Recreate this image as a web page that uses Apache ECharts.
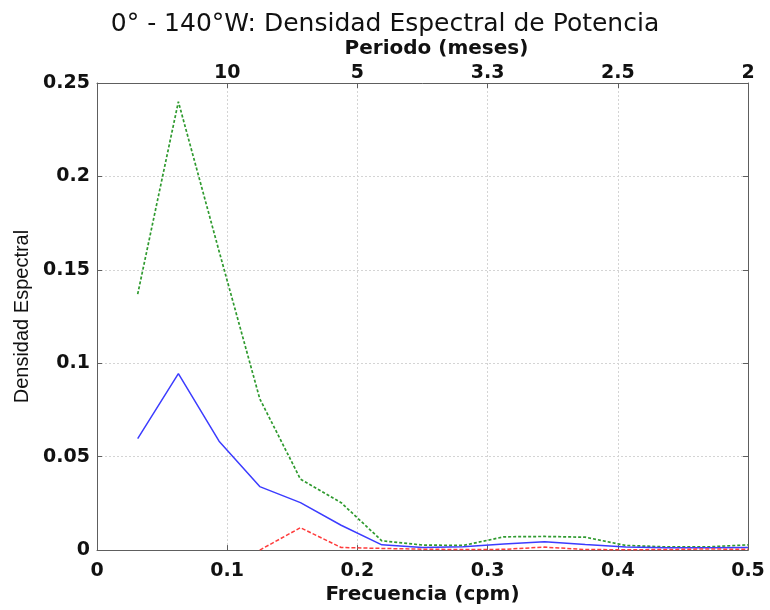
<!DOCTYPE html>
<html>
<head>
<meta charset="utf-8">
<script src="https://cdn.jsdelivr.net/npm/echarts@6/dist/echarts.min.js"></script>
<style>
html,body{margin:0;padding:0;background:#fff;}
#chart{width:770px;height:610px;}
</style>
</head>
<body>
<div id="chart"></div>
<script>
// Frequencies (cpm)
var frequencies = [0.03125, 0.0625, 0.09375, 0.125, 0.15625, 0.1875, 0.21875, 0.25, 0.28125, 0.3125, 0.34375, 0.375, 0.40625, 0.4375, 0.46875, 0.5];
// Upper confidence bound (green dotted)
var upperValues = [0.137, 0.240, 0.160, 0.081, 0.038, 0.0254, 0.005, 0.0027, 0.0025, 0.0071, 0.0073, 0.0069, 0.0025, 0.0017, 0.0017, 0.0028];
// Spectral density (blue solid)
var spectrumValues = [0.0597, 0.0945, 0.0583, 0.034, 0.0254, 0.0133, 0.0028, 0.0014, 0.0018, 0.0033, 0.0045, 0.003, 0.0016, 0.0012, 0.0012, 0.0014];
// Lower confidence bound (red dashed)
var lowerValues = [null, null, null, 0.0, 0.012, 0.0014, 0.0009, 0.0005, 0.0003, 0.0004, 0.0016, 0.0003, 0.0002, 0.0003, 0.0006, 0.0004];
// Top axis tick labels (period, months), one per 0.1 cpm tick
var periodLabels = ['', '10', '5', '3.3', '2.5', '2'];

function pairs(vals) {
  return frequencies.map(function (f, i) { return [f, vals[i]]; });
}

var chart = echarts.init(document.getElementById('chart'), null, {renderer: 'canvas'});
var frameColor = '#5e5e5e';
var tickFont = {fontFamily: 'DejaVu Sans', fontWeight: 'bold', fontSize: 19, color: '#111'};

chart.setOption({
  backgroundColor: '#ffffff',
  animation: false,
  title: {
    text: '0° - 140°W: Densidad Espectral de Potencia',
    left: 'center',
    top: 7,
    textStyle: {fontFamily: 'DejaVu Sans', fontWeight: 'normal', fontSize: 25, color: '#111'}
  },
  grid: {left: 97, right: 22, top: 83, bottom: 48, containLabel: false},
  xAxis: [
    {
      type: 'value', position: 'bottom', min: 0, max: 0.5, interval: 0.1,
      name: 'Frecuencia (cpm)', nameLocation: 'middle', nameGap: 30,
      nameTextStyle: {fontFamily: 'DejaVu Sans', fontWeight: 'bold', fontSize: 20, color: '#111'},
      axisLine: {show: true, onZero: false, lineStyle: {color: frameColor, width: 1}},
      axisTick: {show: true, inside: true, length: 5, lineStyle: {color: frameColor}},
      axisLabel: Object.assign({margin: 11, showMinLabel: true, showMaxLabel: true}, tickFont),
      splitLine: {show: true, lineStyle: {color: '#d4d4d4', type: [2, 2], width: 1}}
    },
    {
      type: 'value', position: 'top', min: 0, max: 0.5, interval: 0.1,
      name: 'Periodo (meses)', nameLocation: 'middle', nameGap: 21,
      nameTextStyle: {fontFamily: 'DejaVu Sans', fontWeight: 'bold', fontSize: 20, color: '#111', padding: [0, 0, 0, 28]},
      axisLine: {show: true, onZero: false, lineStyle: {color: frameColor, width: 1}},
      axisTick: {show: true, inside: true, length: 5, lineStyle: {color: frameColor}},
      axisLabel: Object.assign({
        margin: 0, showMinLabel: true, showMaxLabel: true,
        formatter: function (v) { return periodLabels[Math.round(v / 0.1)]; }
      }, tickFont),
      splitLine: {show: false}
    }
  ],
  yAxis: [
    {
      type: 'value', position: 'left', min: 0, max: 0.25, interval: 0.05,
      name: 'Densidad Espectral', nameLocation: 'middle', nameGap: 64, nameRotate: 90,
      nameTextStyle: {fontFamily: 'Liberation Sans', fontWeight: 'normal', fontSize: 20, color: '#111'},
      axisLine: {show: true, onZero: false, lineStyle: {color: frameColor, width: 1}},
      axisTick: {show: true, inside: true, length: 5, lineStyle: {color: frameColor}},
      axisLabel: Object.assign({margin: 7, showMinLabel: true, showMaxLabel: true}, tickFont),
      splitLine: {show: true, lineStyle: {color: '#d4d4d4', type: [2, 2], width: 1}}
    },
    {
      type: 'value', position: 'right', min: 0, max: 0.25, interval: 0.05,
      axisLine: {show: true, onZero: false, lineStyle: {color: frameColor, width: 1}},
      axisTick: {show: true, inside: true, length: 5, lineStyle: {color: frameColor}},
      axisLabel: {show: false},
      splitLine: {show: false}
    }
  ],
  series: [
    {
      name: 'upper', type: 'line', xAxisIndex: 0, yAxisIndex: 0,
      data: pairs(upperValues), showSymbol: false, symbol: 'none',
      lineStyle: {color: '#2f9a2f', width: 1.7, type: [3, 2]}
    },
    {
      name: 'spectrum', type: 'line', xAxisIndex: 0, yAxisIndex: 0,
      data: pairs(spectrumValues), showSymbol: false, symbol: 'none',
      lineStyle: {color: '#3c3cff', width: 1.5, type: 'solid'}
    },
    {
      name: 'lower', type: 'line', xAxisIndex: 0, yAxisIndex: 0,
      data: pairs(lowerValues), showSymbol: false, symbol: 'none', connectNulls: false,
      lineStyle: {color: '#ff3c3c', width: 1.5, type: [4, 2]}
    }
  ]
});
</script>
</body>
</html>
